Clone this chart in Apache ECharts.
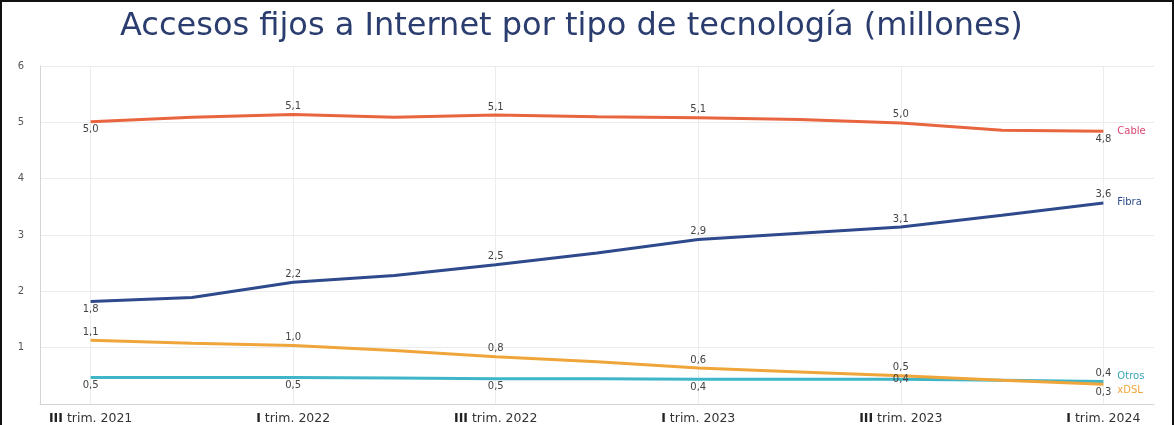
<!DOCTYPE html>
<html>
<head>
<meta charset="utf-8">
<script src="https://cdn.jsdelivr.net/npm/echarts@6/dist/echarts.min.js"></script>
<style>
html,body{margin:0;padding:0;background:#fff;}
#frame{position:absolute;left:0;top:0;width:1170px;height:423px;border-left:2px solid #111;border-top:2px solid #111;border-right:2px solid #111;}
#chart{width:1170px;height:423px;}
</style>
</head>
<body>
<div id="frame"><div id="chart"></div></div>
<script>
const title = 'Accesos fijos a Internet por tipo de tecnología (millones)';
const categories = ['III trim. 2021','IV trim. 2021','I trim. 2022','II trim. 2022','III trim. 2022','IV trim. 2022','I trim. 2023','II trim. 2023','III trim. 2023','IV trim. 2023','I trim. 2024'];
const cable = [5.01, 5.09, 5.14, 5.09, 5.13, 5.10, 5.08, 5.05, 4.99, 4.86, 4.84];
const fibra = [1.82, 1.89, 2.16, 2.28, 2.47, 2.68, 2.92, 3.03, 3.14, 3.35, 3.57];
const xdsl  = [1.13, 1.08, 1.04, 0.95, 0.84, 0.75, 0.64, 0.57, 0.50, 0.42, 0.35];
const otros = [0.47, 0.47, 0.47, 0.46, 0.45, 0.45, 0.44, 0.44, 0.44, 0.42, 0.40];
const yTicks = [0, 1, 2, 3, 4, 5, 6];

const fmt = v => v.toFixed(1).replace('.', ',');
const lblFmt = p => (p.dataIndex % 2 === 0) ? fmt(p.value) : '';

function withPositions(values, overrides) {
  return values.map((v, i) => overrides[i] ? { value: v, label: { position: overrides[i] } } : v);
}

const labelBase = { show: true, formatter: lblFmt, fontSize: 10, color: '#444', fontFamily: 'DejaVu Sans', distance: 3 };

function mkSeries(name, values, color, pos, overrides, endColor, endOffset) {
  return {
    name: name, type: 'line', smooth: false,
    symbol: 'circle', symbolSize: 0.01, showSymbol: true,
    data: withPositions(values, overrides),
    lineStyle: { color: color, width: 3 },
    itemStyle: { color: color },
    label: Object.assign({}, labelBase, { position: pos }),
    endLabel: { show: true, formatter: name, color: endColor, fontSize: 10, fontFamily: 'DejaVu Sans', distance: 14, offset: endOffset },
    z: 3
  };
}

const chart = echarts.init(document.getElementById('chart'), null, { renderer: 'canvas' });
chart.setOption({
  animation: false,
  backgroundColor: '#fff',
  title: {
    text: title, left: 113, top: 4,
    textStyle: { fontFamily: 'DejaVu Sans', fontSize: 32, fontWeight: 'normal', color: '#2a3d6e' }
  },
  grid: { left: 38, right: 18, top: 64, bottom: 21, containLabel: false },
  xAxis: {
    type: 'category', data: categories, boundaryGap: true,
    axisLine: { show: true, lineStyle: { color: '#d4d4d4' } },
    axisTick: { show: false },
    axisLabel: {
      interval: 1, color: '#333', fontSize: 12.5, fontFamily: 'DejaVu Sans', margin: 8,
      formatter: v => { const k = v.indexOf(' '); return '{b|' + v.slice(0, k) + '} ' + v.slice(k + 1); },
      rich: { b: { fontWeight: 'bold', fontSize: 12.5, color: '#222', fontFamily: 'DejaVu Sans' } }
    },
    splitLine: { show: true, interval: 1, alignWithLabel: true, lineStyle: { color: '#ececec' } }
  },
  yAxis: {
    type: 'value', min: yTicks[0], max: yTicks[yTicks.length - 1], interval: 1,
    axisLine: { show: true, lineStyle: { color: '#d4d4d4' } },
    axisTick: { show: false },
    axisLabel: { showMinLabel: false, color: '#555', fontSize: 10, fontFamily: 'DejaVu Sans', margin: 16 },
    splitLine: { show: true, lineStyle: { color: '#ececec' } }
  },
  series: [
    mkSeries('Cable', cable, '#e8653f', 'top', { 0: 'bottom', 10: 'bottom' }, '#d9466f', [0, 0]),
    mkSeries('Fibra', fibra, '#2e4a8c', 'top', { 0: 'bottom' }, '#2e4a8c', [0, 0]),
    mkSeries('Otros', otros, '#3eb6c8', 'bottom', { 8: 'inside', 10: 'top' }, '#3aa6b8', [0, -5]),
    mkSeries('xDSL', xdsl, '#f0a53a', 'top', { 10: 'bottom' }, '#f0a53a', [0, 6])
  ]
});
</script>
</body>
</html>
